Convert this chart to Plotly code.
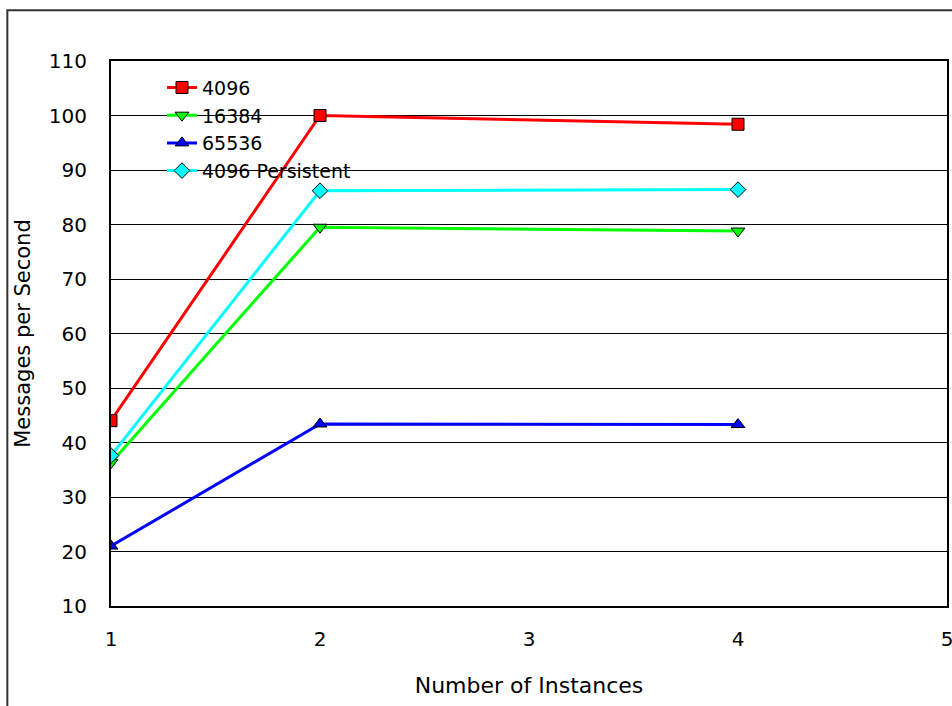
import plotly.graph_objects as go

instances = [1, 2, 4]
series_names = ["4096", "16384", "65536", "4096 Persistent"]
msgs_4096 = [44.0, 100.0, 98.4]
msgs_16384 = [36.3, 79.5, 78.8]
msgs_65536 = [21.0, 43.4, 43.3]
msgs_4096_persistent = [37.6, 86.2, 86.4]

colors = ["#FF0000", "#00FF00", "#0000FF", "#00FFFF"]
symbols = ["square", "triangle-down", "triangle-up", "diamond"]
values = [msgs_4096, msgs_16384, msgs_65536, msgs_4096_persistent]

FONT = "DejaVu Sans"

fig = go.Figure()
for name, vals, col, sym in zip(series_names, values, colors, symbols):
    fig.add_trace(go.Scatter(
        x=instances, y=vals, name=name, mode="lines+markers",
        line=dict(color=col, width=3),
        marker=dict(symbol=sym, size=12, color=col, line=dict(color="#000000", width=1)),
    ))

fig.update_layout(
    width=952, height=706,
    margin=dict(l=111, r=3, t=61, b=100),
    paper_bgcolor="white", plot_bgcolor="white",
    font=dict(family=FONT, size=20, color="#000000"),
    showlegend=True,
    legend=dict(x=0.061, y=0.986, xanchor="left", yanchor="top",
                bgcolor="rgba(0,0,0,0)", borderwidth=0,
                font=dict(family=FONT, size=19), tracegroupgap=0,
                itemwidth=30),
    xaxis=dict(range=[1, 5], dtick=1, tick0=1, showgrid=False, zeroline=False,
               showline=True, linecolor="#000000", linewidth=2, mirror=True,
               ticks="", ticklabelstandoff=14, ticklabeloverflow="allow",
               automargin=False,
               tickfont=dict(family=FONT, size=20),
               title=dict(text="Number of Instances", font=dict(family=FONT, size=22), standoff=28)),
    yaxis=dict(range=[10, 110], dtick=10, tick0=10, showgrid=True, gridcolor="#000000", gridwidth=1,
               zeroline=False, showline=True, linecolor="#000000", linewidth=2, mirror=True,
               ticks="", ticklabelstandoff=18,
               tickfont=dict(family=FONT, size=20),
               title=dict(text="Messages per Second", font=dict(family=FONT, size=21), standoff=12)),
)

fig.add_shape(type="rect", xref="paper", yref="paper",
              x0=-0.124, x1=1.3, y0=-0.4, y1=1.093,
              line=dict(color="#333333", width=2), fillcolor="rgba(0,0,0,0)", layer="below")

fig.write_html("out.html")
